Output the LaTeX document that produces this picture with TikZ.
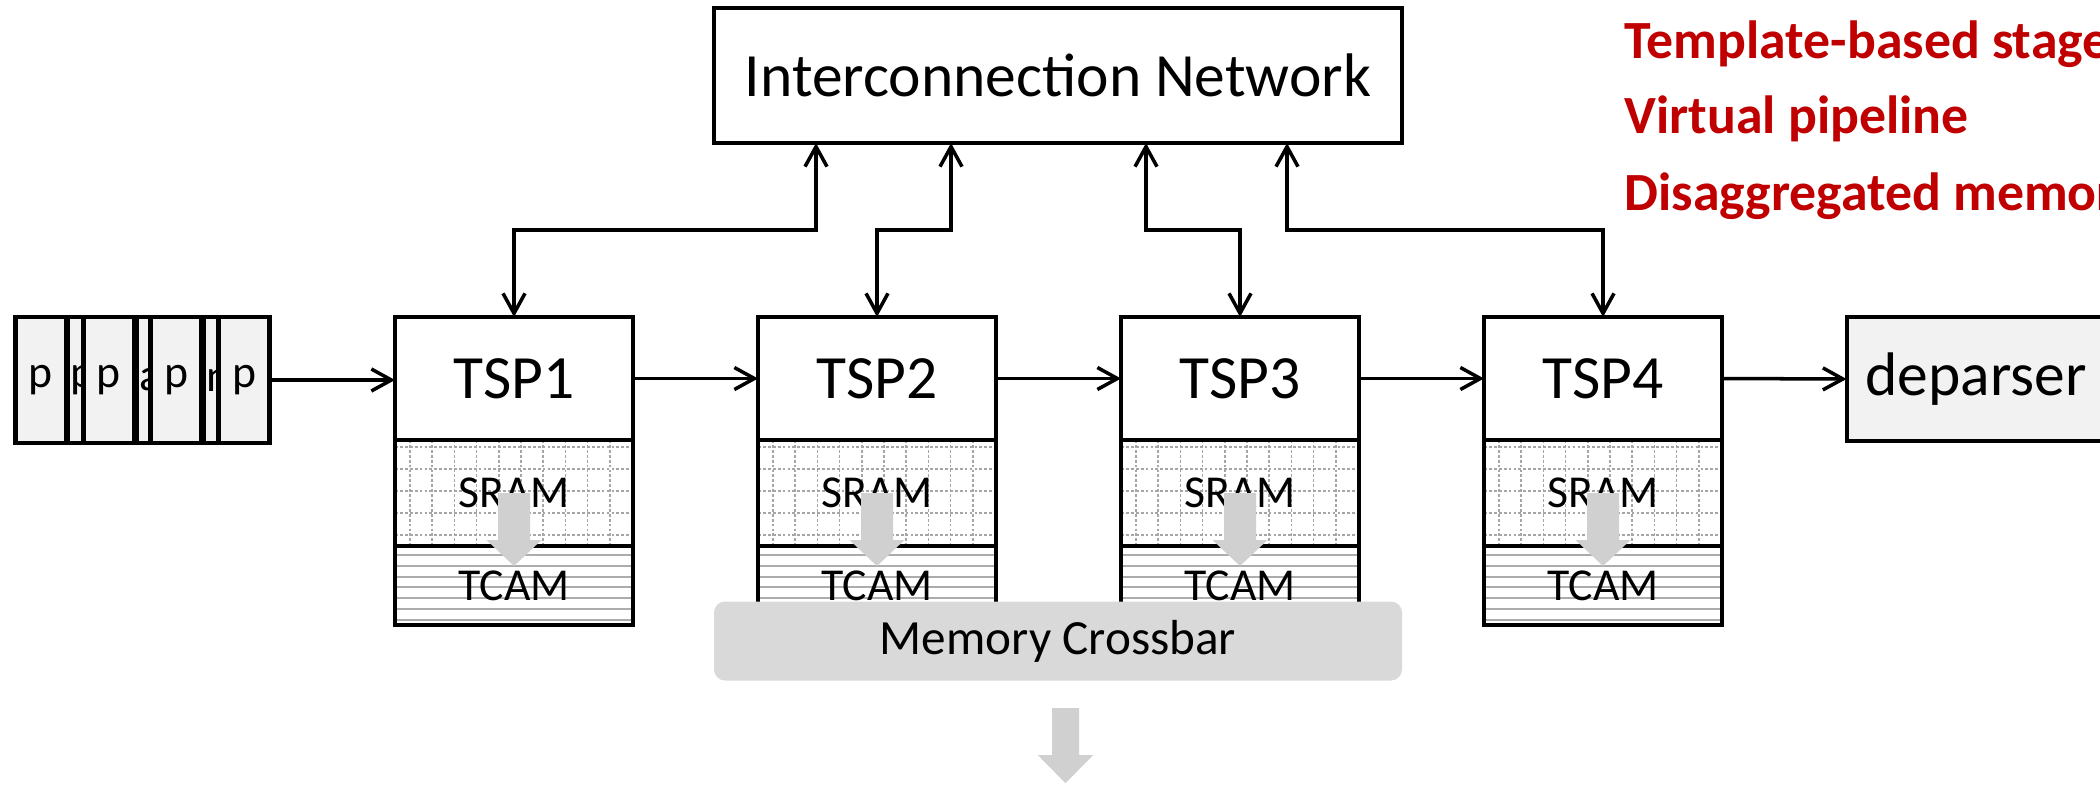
\documentclass[tikz,border=0pt]{standalone}
\usepackage{fontspec}
\setmainfont{Carlito}
\usetikzlibrary{arrows.meta,positioning}
\definecolor{boxgray}{HTML}{F2F2F2}
\definecolor{xbargray}{HTML}{D9D9D9}
\definecolor{flowgray}{HTML}{D0D0D0}
\definecolor{gridgray}{HTML}{A6A6A6}
\definecolor{accent}{HTML}{C00000}
\tikzset{
  blk/.style    ={draw,line width=1.15pt,inner sep=0pt,outer sep=0pt},
  tsp/.style    ={blk,minimum width=23.8mm,minimum height=12.3mm,anchor=north,font=\fontsize{17.5}{20}\selectfont},
  gridln/.style ={gridgray,line width=0.45pt,dash pattern=on 0.8pt off 0.6pt},
  stripe/.style ={gray!65,line width=0.6pt},
  sram/.style   ={blk,minimum width=23.8mm,minimum height=10.6mm,font=\fontsize{13}{15}\selectfont,
    path picture={
      \foreach \k in {0,...,9}
        \draw[gridln] ([xshift=1.5mm+\k*2.22mm]path picture bounding box.north west)
          -- ([xshift=1.5mm+\k*2.22mm]path picture bounding box.south west);
      \foreach \k in {0,...,4}
        \draw[gridln] ([yshift=-0.7mm-\k*2.2mm]path picture bounding box.north west)
          -- ([yshift=-0.7mm-\k*2.2mm]path picture bounding box.north east);
    }},
  tcam/.style   ={blk,minimum width=23.8mm,minimum height=7.9mm,font=\fontsize{13}{15}\selectfont,
    path picture={
      \foreach \k in {0,...,6}
        \draw[stripe] ([yshift=-0.9mm-\k*1.08mm]path picture bounding box.north west)
          -- ([yshift=-0.9mm-\k*1.08mm]path picture bounding box.north east);
    }},
  pkt/.style    ={blk,fill=boxgray,minimum width=5.1mm,minimum height=12.6mm,font=\fontsize{13}{15}\selectfont},
  pktback/.style={pkt,text width=4.5mm,inner xsep=0.3mm,align=left},
  ar/.style     ={-{Straight Barb[length=2mm,width=2.2mm]},line width=1pt},
  link/.style   ={{Straight Barb[length=2mm,width=2.2mm]}-{Straight Barb[length=2mm,width=2.2mm]},line width=1pt},
  flow/.style   ={fill=flowgray},
  note/.style   ={accent,font=\fontsize{15.3}{17}\selectfont\bfseries,anchor=base west,inner sep=0pt},
}
\begin{document}
\begin{tikzpicture}[x=0.1mm,y=-0.1mm]
  \useasboundingbox (0,0) rectangle (2100,784);
  \clip (0,0) rectangle (2100,784);
  % packet queue
  \foreach \i/\x/\t in {1/93/p,2/162/a,3/229/n}
    \node[pktback] (back\i) at (\x,380) {\t};
  \foreach \i/\x in {1/41,2/109,3/176,4/244}
    \node[pkt] (pkt\i) at (\x,380) {p};
  % stages with their memories
  \foreach \i/\x in {1/514,2/877,3/1240,4/1603}{
    \node[tsp] (tsp\i) at (\x,317) {TSP\i};
    \node[sram,below=0pt of tsp\i] (sram\i) {SRAM};
    \node[tcam,below=0pt of sram\i] (tcam\i) {TCAM};}
  \node[blk,minimum width=68.8mm,minimum height=13.5mm,font=\fontsize{17.5}{20}\selectfont]
    (net) at (1058,75.5) {Interconnection Network};
  \node[blk,fill=boxgray,minimum width=25.9mm,minimum height=12.4mm,font=\fontsize{17.5}{20}\selectfont]
    (dep) at (1976,379) {deparser};
  \node[fill=xbargray,rounded corners=1.1mm,minimum width=68.8mm,minimum height=7.9mm,inner sep=0pt,
    font=\fontsize{14}{16}\selectfont] (xbar) at (1058,641) {Memory Crossbar};
  % pipeline
  \draw[ar] (pkt4.east) -- (pkt4.east -| tsp1.west);
  \foreach \i/\j in {1/2,2/3,3/4}
    \draw[ar] (tsp\i.east) -- (tsp\j.west);
  \draw[ar] (tsp4.east) -- (dep.west);
  % network ports
  \foreach \i/\d in {1/10.2mm,2/23.7mm,3/43.2mm,4/57.3mm}{
    \coordinate (port\i) at ([xshift=\d]net.south west);
    \draw[link] (port\i) -- ++(0,87) -| (tsp\i.north);}
  % memory flow
  \foreach \i in {1,...,4}
    \fill[flow,shift={(sram\i.center)}] (-16,0) -- (16,0) -- (16,47) -- (27.5,47)
      -- (0,73) -- (-27.5,47) -- (-16,47) -- cycle;
  \fill[flow,shift={(xbar.south)}] (-6,27) -- (21,27) -- (21,74) -- (35,74)
    -- (7.5,102) -- (-20,74) -- (-6,74) -- cycle;
  % features
  \node[note] (n1) at (1624,58) {Template-based stages};
  \node[note] (n2) at (1624,133) {Virtual pipeline};
  \node[note] (n3) at (1624,210) {Disaggregated memory};
\end{tikzpicture}
\end{document}
